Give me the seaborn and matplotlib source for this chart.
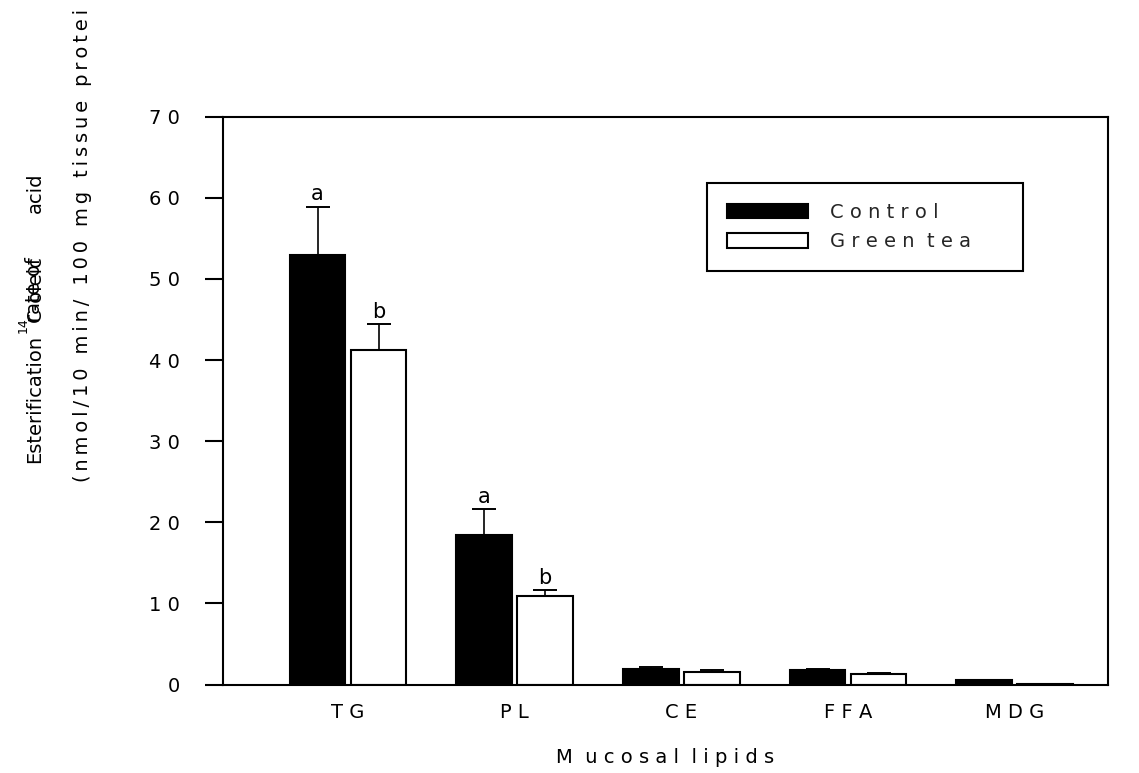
import numpy as np
import pandas as pd
import matplotlib
matplotlib.use("Agg")
import matplotlib.pyplot as plt
import seaborn as sns

# ---- data ----
categories = ["TG", "PL", "CE", "FFA", "MDG"]
groups = ["Control", "Green tea"]
control = [53.0, 18.4, 1.9, 1.8, 0.5]
green_tea = [41.2, 10.9, 1.5, 1.3, 0.1]
control_err = [5.9, 3.2, 0.2, 0.1, 0.0]
green_err = [3.2, 0.7, 0.3, 0.1, 0.0]
control_letters = ["a", "a", "", "", ""]
green_letters = ["b", "b", "", "", ""]
yticks = [0, 10, 20, 30, 40, 50, 60, 70]
xlabel = "M  u c o s a l  l i p i d s"
ylabel_line2 = "(nmol/10 min/ 100 mg tissue protei"

sns.set_theme(style="ticks")
plt.rcParams['font.family'] = ['DejaVu Sans']

df = pd.DataFrame({
    "lipid": categories * 2,
    "group": [groups[0]] * len(categories) + [groups[1]] * len(categories),
    "value": control + green_tea,
})

W, H = 1139, 773
fig = plt.figure(figsize=(W / 100, H / 100), dpi=100)
ax = fig.add_axes([223 / W, 1 - 684.5 / H, 885 / W, 567.8 / H])

sns.barplot(data=df, x="lipid", y="value", hue="group", order=categories,
            hue_order=groups, palette={"Control": "black", "Green tea": "white"},
            edgecolor="black", linewidth=1.5, width=0.732, gap=0.082,
            errorbar=None, legend=False, ax=ax)

for cont, errs, lets in zip(ax.containers, [control_err, green_err],
                            [control_letters, green_letters]):
    xs = np.array([p.get_x() + p.get_width() / 2 for p in cont])
    hs = np.array([p.get_height() for p in cont])
    e = np.array(errs)
    m = e > 0
    ax.errorbar(xs[m], hs[m], yerr=[np.zeros(m.sum()), e[m]], fmt='none',
                ecolor='black', elinewidth=1.2, capsize=8.6, capthick=1.4, zorder=3)
    for x, h, ee, l in zip(xs, hs, e, lets):
        if l:
            ax.annotate(l, (x, h + ee), xytext=(0, 2), textcoords='offset points',
                        ha='center', va='bottom', fontsize=15, color='black')

ax.set_ylim(0, 70)
ax.set_xlim(-0.75, 4.56)
ax.set_yticks(yticks)
ax.set_yticklabels([" ".join(str(v)) for v in yticks])
ax.set_xticks(range(len(categories)))
ax.set_xticklabels([" ".join(c) for c in categories])
ax.tick_params(axis='y', direction='out', length=13, width=1.5, pad=18,
               labelsize=14, colors='black')
ax.tick_params(axis='x', length=0, pad=13, labelsize=14, colors='black')
for s in ax.spines.values():
    s.set_visible(True)
    s.set_color('black')
    s.set_linewidth(1.5)
ax.set_xlabel(xlabel, fontsize=14, labelpad=19, color='black')
ax.set_ylabel("")

leg = ax.legend(handles=list(ax.containers),
                labels=["C o n t r o l", "G r e e n  t e a"],
                loc='upper left', bbox_to_anchor=(0.547, 0.735, 0.357, 0.148),
                mode='expand', borderaxespad=0, fontsize=14, handlelength=4.2,
                handleheight=0.75, handletextpad=1.1, labelspacing=0.55,
                borderpad=1.0, frameon=True, fancybox=False, edgecolor='black',
                framealpha=1)
leg.get_frame().set_linewidth(1.5)


def ftext(xpx, ypx_top, s, **kw):
    fig.text(xpx / W, 1 - ypx_top / H, s, rotation=90, rotation_mode='anchor',
             ha='left', va='center', color='black', **kw)


# y-axis label (two lines, with overlapping fragments as in the scan)
ftext(35, 463, "Esterification", fontsize=14)
ftext(23, 333, "14", fontsize=9)
ftext(35, 322, "C-oleic", fontsize=14)
ftext(35, 322, "rate of", fontsize=14)
ftext(35, 213, "acid", fontsize=14)
ftext(83, 482, "\u2009".join(ylabel_line2), fontsize=14)

fig.savefig("out.png", dpi=100)
